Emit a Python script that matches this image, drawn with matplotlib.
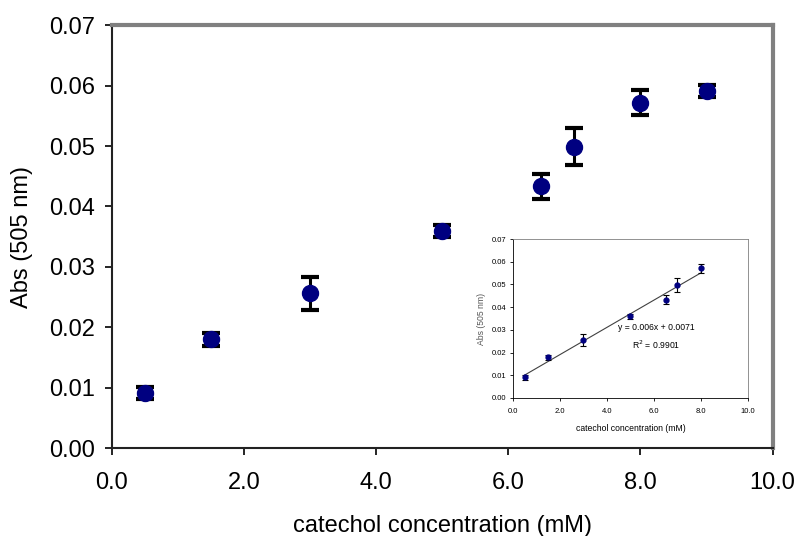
import matplotlib
matplotlib.use("Agg")
import matplotlib.pyplot as plt
import numpy as np

plt.rcParams['font.family'] = ['Liberation Sans', 'DejaVu Sans']

# main data
conc = [0.5, 1.5, 3.0, 5.0, 6.5, 7.0, 8.0, 9.0]
absorb = [0.0091, 0.0180, 0.0256, 0.0360, 0.0433, 0.0499, 0.0572, 0.0591]
err = [0.0010, 0.0011, 0.0027, 0.0010, 0.0020, 0.0031, 0.0020, 0.0010]

# inset data (linear range)
conc_in = [0.5, 1.5, 3.0, 5.0, 6.5, 7.0, 8.0]
absorb_in = [0.0091, 0.0180, 0.0256, 0.0360, 0.0433, 0.0499, 0.0572]
err_in = [0.0010, 0.0011, 0.0027, 0.0010, 0.0020, 0.0031, 0.0020]
slope, intercept = 0.006, 0.0071
fit_text = "y = 0.006x + 0.0071\nR$^2$ = 0.9901"

xticks = [0, 2, 4, 6, 8, 10]
yticks = [0.00, 0.01, 0.02, 0.03, 0.04, 0.05, 0.06, 0.07]

fig = plt.figure(figsize=(7.99, 5.36), dpi=100)
ax = fig.add_axes([0.140, 0.164, 0.827, 0.789])
ax.errorbar(conc, absorb, yerr=err, fmt='o', color='#000080', markersize=11.5,
            ecolor='black', elinewidth=2.2, capsize=6.5, capthick=3, zorder=3)
ax.set_xlim(0, 10)
ax.set_ylim(0, 0.07)
ax.set_xticks(xticks)
ax.set_xticklabels([f"{v:.1f}" for v in xticks])
ax.set_yticks(yticks)
ax.set_yticklabels([f"{v:.2f}" for v in yticks])
ax.tick_params(axis='both', labelsize=17, direction='out', length=5, width=1.2)
ax.tick_params(axis='x', pad=12)
ax.tick_params(axis='y', pad=7)
ax.set_xlabel("catechol concentration (mM)", fontsize=17, labelpad=15)
ax.set_ylabel("Abs (505 nm)", fontsize=17, labelpad=12)
for s in ['left', 'bottom']:
    ax.spines[s].set_color('#222222')
    ax.spines[s].set_linewidth(1.5)
for s in ['top', 'right']:
    ax.spines[s].set_color('#808080')
    ax.spines[s].set_linewidth(3)

# inset
ins = fig.add_axes([0.642, 0.2575, 0.294, 0.2965])
ins.errorbar(conc_in, absorb_in, yerr=err_in, fmt='o', color='#000080', markersize=3.5,
             ecolor='black', elinewidth=0.8, capsize=2.5, capthick=0.8, zorder=3)
xf = np.array([conc_in[0], conc_in[-1]])
ins.plot(xf, slope * xf + intercept, color='#404040', lw=0.8, zorder=2)
ins.text(6.1, 0.027, fit_text, fontsize=6.2, ha='center', va='center', linespacing=1.6)
ins.set_xlim(0, 10)
ins.set_ylim(0, 0.07)
ins.set_xticks(xticks)
ins.set_xticklabels([f"{v:.1f}" for v in xticks])
ins.set_yticks(yticks)
ins.set_yticklabels([f"{v:.2f}" for v in yticks])
ins.tick_params(axis='both', labelsize=5.5, direction='out', length=2, width=0.6, pad=3)
ins.tick_params(axis='x', pad=5)
ins.set_xlabel("catechol concentration (mM)", fontsize=6.2, labelpad=7)
ins.set_ylabel("Abs (505 nm)", fontsize=6.2, labelpad=4, color='#555555')
for s in ['left', 'bottom']:
    ins.spines[s].set_color('black')
    ins.spines[s].set_linewidth(0.6)
for s in ['top', 'right']:
    ins.spines[s].set_color('#808080')
    ins.spines[s].set_linewidth(0.6)

fig.savefig("out.png", dpi=100)
